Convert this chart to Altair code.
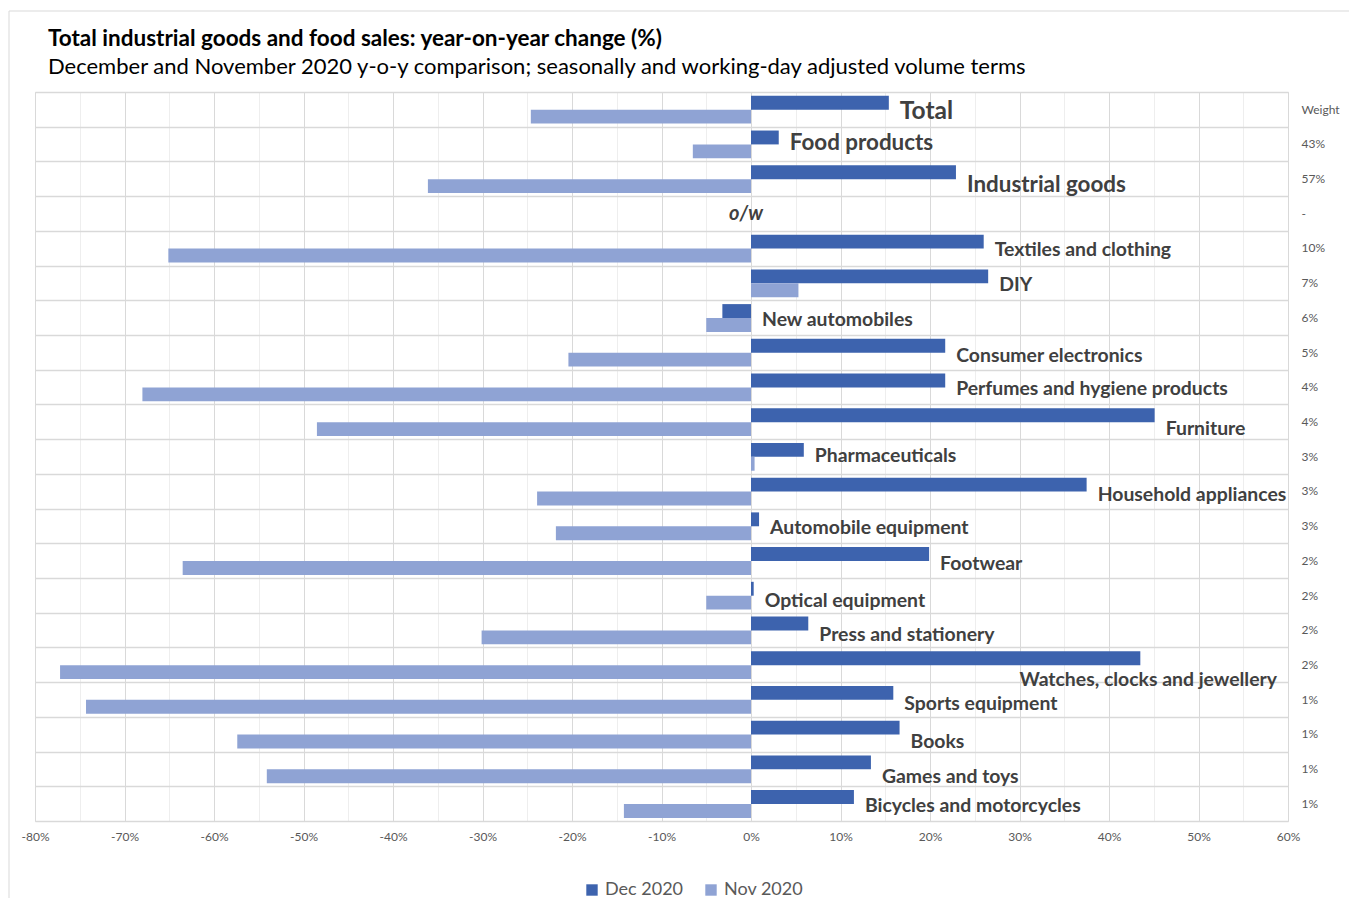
import altair as alt
import pandas as pd

categories = ["Total", "Food products", "Industrial goods", "o/w",
              "Textiles and clothing", "DIY", "New automobiles",
              "Consumer electronics", "Perfumes and hygiene products",
              "Furniture", "Pharmaceuticals", "Household appliances",
              "Automobile equipment", "Footwear", "Optical equipment",
              "Press and stationery", "Watches, clocks and jewellery",
              "Sports equipment", "Books", "Games and toys",
              "Bicycles and motorcycles"]
dec_2020 = [15.4, 3.1, 22.9, None, 26.0, 26.5, -3.2, 21.7, 21.7, 45.1, 5.9,
            37.5, 0.9, 19.9, 0.3, 6.4, 43.5, 15.9, 16.6, 13.4, 11.5]
nov_2020 = [-24.6, -6.5, -36.1, None, -65.1, 5.3, -5.0, -20.4, -68.0, -48.5,
            0.4, -23.9, -21.8, -63.5, -5.0, -30.1, -77.2, -74.3, -57.4,
            -54.1, -14.2]
weights = ["Weight", "43%", "57%", "-", "10%", "7%", "6%", "5%", "4%", "4%",
           "3%", "3%", "3%", "2%", "2%", "2%", "2%", "1%", "1%", "1%", "1%"]
levels = ["top", "main", "main", "ow"] + ["sub"] * 17
x_ticks = list(range(-80, 61, 5))

# layout helpers (not data)
LEVEL_FONT = {"top": 24.5, "main": 22.4, "sub": 19.4}
LABEL_NUDGE = {"Total": 0.03, "Food products": -0.1, "Industrial goods": 0.12,
               "Furniture": 0.15, "Consumer electronics": 0.05, "Footwear": 0.05,
               "Pharmaceuticals": -0.08, "Household appliances": 0.06,
               "Optical equipment": 0.1, "Press and stationery": 0.08,
               "Sports equipment": 0.06, "Books": 0.17, "Games and toys": 0.17}
WATCHES = "Watches, clocks and jewellery"

DEC_C = "#3D63AE"
NOV_C = "#8FA3D4"
TXT_C = "#404040"
FONT = "Lato"
W, H = 1253, 729

bar_rows = []
for i, cat in enumerate(categories):
    for series, vals, y0, y1 in (("Dec 2020", dec_2020, 0.11, 0.51),
                                  ("Nov 2020", nov_2020, 0.51, 0.91)):
        v = vals[i]
        if v is None:
            continue
        bar_rows.append({"category": cat, "series": series, "value": v,
                         "y0": i + y0, "y1": i + y1})
bars_df = pd.DataFrame(bar_rows)

lab_rows = []
for i, cat in enumerate(categories):
    if levels[i] == "ow" or cat == WATCHES:
        continue
    d = dec_2020[i]
    lab_rows.append({"name": cat, "level": levels[i],
                     "lx": max(d, 0), "ly": i + 0.5 + LABEL_NUDGE.get(cat, 0)})
lab_df = pd.DataFrame(lab_rows)

ow_i = levels.index("ow")
ow_df = pd.DataFrame([{"name": categories[ow_i], "lx": 0, "ly": ow_i + 0.5}])
w_i = categories.index(WATCHES)
w_df = pd.DataFrame([{"name": WATCHES, "lx": 60, "ly": w_i + 0.89}])

xscale = alt.Scale(domain=[-80, 60], nice=False, zero=False)
yscale = alt.Scale(domain=[0, len(categories)], reverse=True, nice=False, zero=False)

weights_js = "[" + ",".join("'" + w + "'" for w in weights) + ",'']"

x_axis = alt.Axis(values=x_ticks, tickCount=60,
                  labelExpr="datum.value % 10 === 0 ? datum.value + '%' : ''",
                  gridColor={"condition": {"test": "datum.value % 10 === 0", "value": "#d9d9d9"},
                             "value": "#eeeeee"},
                  ticks=False, domain=False, title=None, labelFontSize=12,
                  labelColor="#595959", labelPadding=10, labelFont=FONT,
                  labelFlush=False, labelOverlap=False)
y_axis = alt.Axis(orient="right", values=list(range(0, len(categories) + 1)),
                  tickCount=60,
                  labelExpr=weights_js + "[datum.value]",
                  labelOffset=17, labelPadding=13, labelFontSize=12,
                  labelColor="#595959", labelFont=FONT, labelAlign="left",
                  labelBaseline="middle", labelOverlap=False, labelFlush=False,
                  labelBound=False,
                  ticks=False, domain=False, title=None, gridColor="#d9d9d9",
                  gridWidth=1.5)

frame = alt.Chart(pd.DataFrame({"k": [0]})).mark_rule(color="#d9d9d9", strokeWidth=1).encode(
    x=alt.value(-26), x2=alt.value(W + 80), y=alt.value(-81))
frame_left = alt.Chart(pd.DataFrame({"k": [0]})).mark_rule(color="#d9d9d9", strokeWidth=1).encode(
    x=alt.value(-26), y=alt.value(-81), y2=alt.value(H + 80))

bars = alt.Chart(bars_df).mark_bar().encode(
    x=alt.X("value:Q", scale=xscale, axis=x_axis),
    x2=alt.datum(0),
    y=alt.Y("y0:Q", scale=yscale, axis=y_axis),
    y2="y1:Q",
    color=alt.Color("series:N",
                    scale=alt.Scale(domain=["Dec 2020", "Nov 2020"], range=[DEC_C, NOV_C]),
                    legend=alt.Legend(orient="none", legendX=548, legendY=789,
                                      direction="horizontal", title=None,
                                      symbolType="square", symbolSize=130,
                                      symbolStrokeWidth=0,
                                      labelFontSize=18, labelColor="#595959",
                                      labelFont=FONT, columnPadding=18)),
)

label_layers = []
for lvl, fs in LEVEL_FONT.items():
    label_layers.append(
        alt.Chart(lab_df).transform_filter(alt.datum.level == lvl)
        .mark_text(align="left", baseline="middle", dx=11, dy=2, font=FONT,
                   fontWeight="bold", color=TXT_C, fontSize=fs)
        .encode(x=alt.X("lx:Q", scale=xscale),
                y=alt.Y("ly:Q", scale=yscale),
                text="name:N")
    )

ow = alt.Chart(ow_df).mark_text(align="center", baseline="middle", dx=-5, dy=0,
                                font=FONT, fontWeight="bold", fontStyle="italic",
                                color=TXT_C, fontSize=20).encode(
    x=alt.X("lx:Q", scale=xscale),
    y=alt.Y("ly:Q", scale=yscale),
    text="name:N",
)

watches = alt.Chart(w_df).mark_text(align="right", baseline="middle", dx=-11, dy=2,
                                    font=FONT, fontWeight="bold",
                                    color=TXT_C, fontSize=19.4).encode(
    x=alt.X("lx:Q", scale=xscale),
    y=alt.Y("ly:Q", scale=yscale),
    text="name:N",
)

chart = alt.layer(frame, frame_left, bars, *label_layers, ow, watches).properties(
    width=W, height=H,
    autosize=alt.AutoSizeParams(type="none"),
    padding={"left": 27, "top": 84, "right": 61, "bottom": 77},
    title=alt.TitleParams(
        text="Total industrial goods and food sales: year-on-year change (%)",
        subtitle="December and November 2020 y-o-y comparison; seasonally and working-day adjusted volume terms",
        anchor="start", frame="group", dx=13, dy=81, offset=14,
        font=FONT, fontSize=22.5, fontWeight="bold", color="#000000",
        subtitleFont=FONT, subtitleFontSize=22, subtitleColor="#000000",
        subtitlePadding=6),
).configure_view(stroke=None).configure(background="white")

chart.save("out.html", embed_options={"renderer": "svg", "actions": False})
